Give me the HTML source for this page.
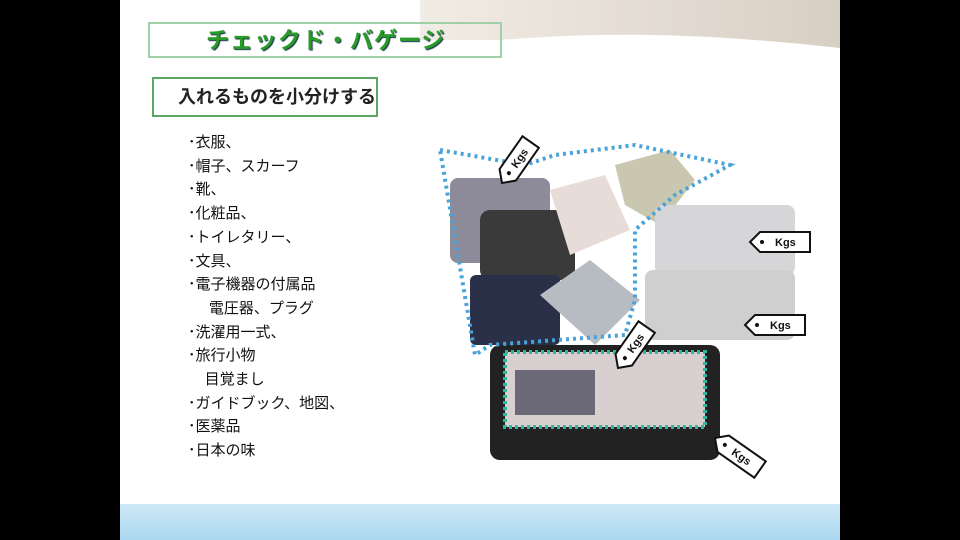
<!DOCTYPE html>
<html><head><meta charset="utf-8"><style>
body{margin:0;background:#000;width:960px;height:540px;overflow:hidden;font-family:"Liberation Sans","Noto Sans CJK JP",sans-serif}
#s{position:absolute;left:120px;top:0;width:720px;height:540px;background:#fff;overflow:hidden}
.t1{position:absolute;left:28px;top:22px;width:354px;height:36px;border:2px solid #9fd0a8;box-sizing:border-box;font-weight:bold;font-size:23px;letter-spacing:1px;color:#2a9a2a;line-height:32px;padding-left:56px;text-shadow:1px 1px 1px #134;white-space:nowrap}
.t2{position:absolute;left:32px;top:77px;width:226px;height:40px;border:2px solid #5aa863;box-sizing:border-box;font-size:18px;font-weight:bold;color:#222;line-height:36px;padding-left:24px;white-space:nowrap}
.l{position:absolute;left:68px;top:131px;font-size:15px;line-height:23.7px;color:#111}
</style></head><body><div id="s">
<svg width="720" height="540" style="position:absolute;left:0;top:0">
<defs><linearGradient id="b" x1="0" y1="0" x2="0" y2="1"><stop offset="0" stop-color="#cfe9f7"/><stop offset="1" stop-color="#a9d6ef"/></linearGradient>
<linearGradient id="c" x1="0" y1="0" x2="1" y2="0"><stop offset="0" stop-color="#fff"/><stop offset="0.5" stop-color="#eee8e0"/><stop offset="1" stop-color="#d8cfc4"/></linearGradient></defs>
<path d="M0 0H720V48C600 35 500 30 380 40L300 40V0Z" fill="url(#c)"/>
<rect x="0" y="504" width="720" height="36" fill="url(#b)"/>
<g transform="translate(310,120)">
<rect x="20" y="58" width="100" height="85" rx="8" fill="#8d8a9a"/>
<rect x="50" y="90" width="95" height="70" rx="10" fill="#3a3a3a"/>
<rect x="40" y="155" width="90" height="70" rx="6" fill="#2a3048"/>
<polygon points="120,70 175,55 200,110 140,135" fill="#e8dcd8"/>
<polygon points="185,45 240,30 265,60 230,105 195,85" fill="#c9c7b0"/>
<rect x="225" y="85" width="140" height="70" rx="8" fill="#d6d6d8"/>
<rect x="215" y="150" width="150" height="70" rx="8" fill="#cfcfd0"/>
<polygon points="110,175 160,140 210,180 165,225" fill="#b7bcc3"/>
<rect x="60" y="225" width="230" height="115" rx="10" fill="#222"/>
<rect x="75" y="232" width="200" height="75" fill="#d8d0d0"/>
<rect x="85" y="250" width="80" height="45" fill="#6b6878"/>
<rect x="75" y="232" width="200" height="75" fill="none" stroke="#2fb7a0" stroke-width="4" stroke-dasharray="3 3"/>
<path d="M10 30 L95 45 L125 35 L205 25 L300 45 L245 75 L205 110 L205 180 L195 215 L60 225 L45 235 L10 30Z" fill="none" stroke="#4aa3d8" stroke-width="4" stroke-dasharray="3 4"/>
</g>
<g font-size="11" font-weight="bold" fill="#111">
<g transform="translate(382,183) rotate(-55)"><path d="M0 0 L10 -10 H50 V10 H10Z" fill="#fff" stroke="#111" stroke-width="2"/><circle cx="12" cy="0" r="2" fill="#111"/><text x="20" y="4">Kgs</text></g>
<g transform="translate(630,242)"><path d="M0 0 L10 -10 H60 V10 H10Z" fill="#fff" stroke="#111" stroke-width="2"/><circle cx="12" cy="0" r="2" fill="#111"/><text x="25" y="4">Kgs</text></g>
<g transform="translate(625,325)"><path d="M0 0 L10 -10 H60 V10 H10Z" fill="#fff" stroke="#111" stroke-width="2"/><circle cx="12" cy="0" r="2" fill="#111"/><text x="25" y="4">Kgs</text></g>
<g transform="translate(498,368) rotate(-55)"><path d="M0 0 L10 -10 H50 V10 H10Z" fill="#fff" stroke="#111" stroke-width="2"/><circle cx="12" cy="0" r="2" fill="#111"/><text x="20" y="4">Kgs</text></g>
<g transform="translate(595,438) rotate(35)"><path d="M0 0 L10 -10 H55 V10 H10Z" fill="#fff" stroke="#111" stroke-width="2"/><circle cx="12" cy="0" r="2" fill="#111"/><text x="22" y="4">Kgs</text></g>
</g>
</svg>
<div class="t1">チェックド・バゲージ</div>
<div class="t2">入れるものを小分けする</div>
<div class="l">･衣服、<br>･帽子、スカーフ<br>･靴、<br>･化粧品、<br>･トイレタリー、<br>･文具、<br>･電子機器の付属品<br>&nbsp;&nbsp;&nbsp;&nbsp;&nbsp;電圧器、プラグ<br>･洗濯用一式、<br>･旅行小物<br>&nbsp;&nbsp;&nbsp;&nbsp;目覚まし<br>･ガイドブック、地図、<br>･医薬品<br>･日本の味</div>
</div></body></html>
